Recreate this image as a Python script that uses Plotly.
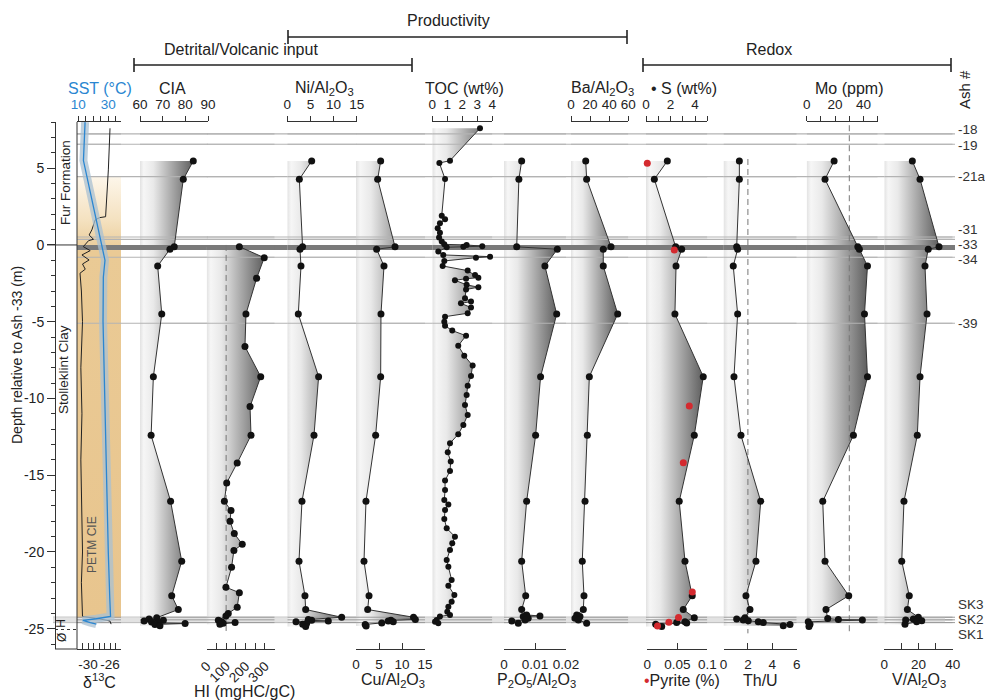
import plotly.graph_objects as go

# ---------------------------------------------------------------- data ----
# depths (m, relative to Ash -33) of the main geochemistry samples
SAMPLE_DEPTH = [5.47, 4.28, -0.12, -0.28, -1.37, -4.5, -8.58, -12.4, -16.7, -20.6, -22.85, -23.75]

CIA = [83.5, 79.1, 75.1, 73.2, 67.8, 69.6, 65.9, 64.9, 73.5, 78.4, 74.0, 76.9]
CIA_BASE_DEPTH = [-24.28, -24.36, -24.44, -24.5, -24.56, -24.62, -24.66, -24.72, -24.8]
CIA_BASE = [67.4, 64.0, 70.3, 61.8, 65.1, 68.1, 79.9, 66.6, 68.8]

NI = [5.27, 2.6, 3.3, 2.74, 2.96, 2.38, 6.77, 5.77, 3.17, 2.53, 3.82, 3.97]
NI_BASE_DEPTH = [-24.25, -24.4, -24.45, -24.5, -24.55, -24.65, -24.7, -24.85]
NI_BASE = [11.75, 4.54, 5.27, 8.86, 1.88, 4.19, 3.33, 3.97]

CU = [5.36, 4.71, 8.48, 4.49, 6.09, 5.43, 5.36, 4.27, 2.17, 1.74, 2.83, 2.54]
CU_BASE_DEPTH = [-24.25, -24.4, -24.45, -24.5, -24.55, -24.62, -24.72, -24.82]
CU_BASE = [12.5, 12.9, 7.6, 7.0, 8.1, 5.6, 2.0, 2.2]

P2O5 = [0.0057, 0.0048, 0.0041, 0.0172, 0.0132, 0.017, 0.0118, 0.0102, 0.0073, 0.0057, 0.007, 0.0057]
P2O5_BASE_DEPTH = [-24.1, -24.17, -24.2, -24.32, -24.43, -24.5, -24.65]
P2O5_BASE = [0.0073, 0.0116, 0.0062, 0.0078, 0.0068, 0.0025, 0.0046]

BA = [15.4, 16.4, 41.9, 33.8, 33.8, 48.9, 19.2, 17.1, 14.7, 11.8, 13.6, 12.9]
BA_BASE_DEPTH = [-24.1, -24.2, -24.32, -24.43, -24.65]
BA_BASE = [6.0, 9.4, 4.2, 7.7, 16.4]

S = [1.74, 0.68, 2.42, 2.91, 2.45, 2.36, 4.67, 3.94, 2.71, 3.18, 3.77, 3.04]
S_BASE_DEPTH = [-24.28, -24.54, -24.6, -24.63, -24.7, -24.85]
S_BASE = [3.94, 3.18, 2.5, 3.32, 0.79, 1.28]

THU = [1.3, 1.3, 1.08, 1.16, 0.8, 1.16, 0.86, 1.43, 3.05, 2.66, 1.84, 2.17]
THU_BASE_DEPTH = [-24.28, -24.36, -24.43, -24.48, -24.55, -24.6, -24.72, -24.8]
THU_BASE = [1.76, 1.08, 1.62, 2.03, 2.85, 3.26, 5.45, 4.9]

MO = [19.3, 12.9, 36.0, 37.1, 42.8, 40.7, 42.8, 32.9, 11.3, 12.9, 29.6, 13.6]
MO_BASE_DEPTH = [-24.33, -24.4, -24.43, -24.55, -24.7, -24.85]
MO_BASE = [14.8, 22.3, 39.2, 1.1, 2.3, 1.6]

V = [16.4, 20.9, 32.0, 25.7, 23.8, 25.0, 20.9, 19.3, 11.5, 10.2, 14.6, 13.5]
V_BASE_DEPTH = [-24.25, -24.36, -24.43, -24.48, -24.55, -24.7]
V_BASE = [19.9, 17.0, 12.5, 21.9, 18.9, 12.1]

HI_DEPTH = [-0.11, -0.83, -2.17, -4.5, -6.62, -8.58, -10.53, -12.4, -14.2, -15.5, -16.7,
            -17.3, -18.0, -18.8, -19.5, -19.9, -21.0, -22.3, -22.65, -23.6, -24.0, -24.17,
            -24.45, -24.55, -24.6, -24.65, -24.7]
HI = [168, 296, 257, 202, 197, 278, 223, 228, 157, 103, 91,
      125, 120, 142, 183, 140, 128, 99, 168, 157, 111, 99,
      60, 77, 146, 85, 68]

TOC_DEPTH = [7.6, 5.49, 5.34, 4.3, 1.91, 1.67, 1.41, 1.09, 0.8, 0.48, 0.22, 0.04, 0.0, -0.08,
             -0.12, -0.15, -0.43, -0.65, -0.76, -0.83, -1.04, -1.37, -1.67, -1.95, -2.13, -2.2,
             -2.3, -2.6, -2.75, -2.9, -3.47, -3.69, -3.8, -4.08, -4.45, -4.67, -5.0, -5.26,
             -5.58, -5.91, -6.56, -7.21, -7.86, -8.53, -9.17, -9.77, -10.42, -11.07, -11.73,
             -12.33, -12.92, -13.51, -14.11, -14.72, -15.35, -15.96, -16.61, -16.9, -17.26,
             -17.85, -18.46, -19.0, -19.43, -19.87, -20.52, -20.96, -21.82, -22.2, -22.8,
             -23.24, -23.56, -23.89, -24.1, -24.2, -24.43, -24.54, -24.65]
TOC = [3.18, 1.18, 0.47, 0.85, 0.63, 0.85, 0.51, 0.36, 0.51, 0.45, 0.63, 0.8, 2.29, 3.33,
       2.07, 0.96, 0.4, 0.73, 3.85, 2.91, 0.8, 0.69, 2.36, 2.85, 3.07, 2.25,
       1.51, 2.29, 3.07, 2.25, 2.18, 2.58, 1.91, 2.58, 2.36, 0.85, 0.8, 0.85,
       1.33, 2.25, 1.73, 2.13, 2.69, 2.58, 2.36, 2.29, 2.18, 2.36, 2.07,
       1.73, 1.18, 1.03, 1.23, 1.18, 0.85, 0.85, 0.8, 1.07, 0.85,
       0.8, 0.96, 1.51, 1.33, 1.18, 0.96, 1.07, 1.29, 1.07, 1.47,
       1.29, 1.07, 1.0, 1.18, 0.51, 0.29, 0.18, 0.4]

PYRITE_DEPTH = [5.32, -0.33, -10.49, -14.18, -22.6, -24.26, -24.58, -24.82]
PYRITE = [0.0, 0.045, 0.07, 0.06, 0.075, 0.052, 0.036, 0.017]

D13C_DEPTH = [7.6, 4.89, 1.84, 1.78, 1.63, 0.98, 0.65, 0.37, 0.28, -0.11, -0.37, -0.65, -0.98,
              -1.24, -1.58, -1.84, -3.0, -5.0, -8.0, -11.0, -14.0, -17.0, -20.0, -22.0, -24.2,
              -24.35, -24.5, -24.7]
D13C = [-26.0, -26.3, -26.8, -27.9, -28.7, -29.3, -29.8, -29.0, -29.9, -30.85, -29.6, -31.1, -29.8,
        -31.0, -30.5, -31.45, -31.2, -31.0, -31.3, -31.1, -31.3, -31.2, -31.0, -31.2, -31.0,
        -28.0, -26.0, -25.8]

SST_DEPTH = [8.0, 5.5, -1.0, -2.1, -5.0, -10.0, -15.0, -20.0, -23.0, -24.2, -24.35, -24.45, -24.6, -24.7]
SST = [14.5, 13.4, 27.8, 26.7, 26.5, 27.5, 28.5, 30.0, 31.0, 31.5, 22.0, 13.0, 18.0, 22.0]

PETM_CIE = (4.45, -24.28)          # top / base of the carbon isotope excursion

ASH_NAMES = ['-18', '-19', '-21a', '-31', '', '-33', '-34', '-39', 'SK3', 'SK2', 'SK1']
ASH_DEPTHS = [7.23, 6.56, 4.45, 0.52, 0.36, -0.17, -0.8, -5.1, -24.25, -24.42, -24.6]

# threshold lines (value, top depth, base depth)
HI_REF = (100, 0.0, -25.3)
THU_REF = (2, 5.6, -25.3)
MO_REF = (30, 7.8, -25.3)

Y_TICKS = [5, 0, -5, -10, -15, -20, -25]

# ---------------------------------------------------------------- layout helpers ----
W, H = 985, 700
FONT = 'Liberation Sans, Arial, sans-serif'
INK = '#222222'


def px(x):
    return x / W


def py(y):
    return 1 - y / H


DEPTH_RANGE = [-26.32, 8.01]
GREYS = [[0, '#e2e2e2'], [0.07, '#f6f6f6'], [0.25, '#e9e9e9'], [1, '#5e5e5e']]

fig = go.Figure()
layout_axes = {}


def add_axis(num, side, x0, x1, rng, tickvals, ticktext, label_color=INK, angle=0):
    top = side == 'top'
    name = 'xaxis' if num == 1 else f'xaxis{num}'
    layout_axes[name] = dict(
        domain=[px(x0), px(x1)], range=rng, anchor='y', side=side,
        showline=True, linecolor='#333', linewidth=1,
        ticks='outside' if top else 'inside', ticklen=5 if top else 6,
        tickwidth=1, tickcolor='#333',
        tickmode='array', tickvals=tickvals, ticktext=ticktext, tickangle=angle,
        tickfont=dict(size=13.5, color=label_color, family=FONT),
        ticklabelstandoff=2 if top else 3, automargin=False,
        showgrid=False, zeroline=False, fixedrange=True)
    return 'x' if num == 1 else f'x{num}'


def ash_overlay(ax, rng):
    # redraw the ash horizons over the shaded bands of one panel
    thin_x, thin_y, sk_x, sk_y = [], [], [], []
    for name, d in zip(ASH_NAMES, ASH_DEPTHS):
        if name == '-33':
            continue
        if name.startswith('SK'):
            sk_x += [rng[0], rng[1], None]
            sk_y += [d, d, None]
        else:
            thin_x += [rng[0], rng[1], None]
            thin_y += [d, d, None]
    d33 = ASH_DEPTHS[ASH_NAMES.index('-33')]
    for xs, ys, col, w in [(thin_x, thin_y, '#b3b3b3', 1.2), (sk_x, sk_y, '#9a9a9a', 1.0),
                           ([rng[0], rng[1]], [d33, d33], '#7a7a7a', 5)]:
        fig.add_trace(go.Scatter(x=xs, y=ys, xaxis=ax, yaxis='y', mode='lines',
                                 line=dict(color=col, width=w), hoverinfo='skip', showlegend=False))


def profile(ax, rng, depths, values, msize=7, ref=None):
    lo = rng[0]
    fig.add_trace(go.Scatter(
        x=[lo] + list(values) + [lo], y=[depths[0]] + list(depths) + [depths[-1]],
        xaxis=ax, yaxis='y', mode='lines', line=dict(width=0), fill='toself',
        fillgradient=dict(type='horizontal', colorscale=GREYS, start=lo, stop=max(values)),
        hoverinfo='skip', showlegend=False))
    ash_overlay(ax, rng)
    if ref is not None:
        fig.add_trace(go.Scatter(x=[ref[0], ref[0]], y=[ref[1], ref[2]], xaxis=ax, yaxis='y',
                                 mode='lines', line=dict(color='#777', width=1, dash='6px,4px'),
                                 hoverinfo='skip', showlegend=False))
    fig.add_trace(go.Scatter(x=values, y=depths, xaxis=ax, yaxis='y', mode='lines+markers',
                             line=dict(color='#333', width=1),
                             marker=dict(color='#111', size=msize), cliponaxis=False,
                             hoverinfo='skip', showlegend=False))


# ---------------------------------------------------------------- d13C / SST panel ----
R_D13C = [-32, -24]
D13C_TICKS = list(range(-32, -23))
D13C_LABELS = {-30: '-30', -26: '-26'}
ax1 = add_axis(1, 'bottom', 77, 121, R_D13C, D13C_TICKS, [D13C_LABELS.get(v, '') for v in D13C_TICKS])

fig.add_trace(go.Scatter(
    x=[R_D13C[0], R_D13C[1], R_D13C[1], R_D13C[0], R_D13C[0]],
    y=[PETM_CIE[0], PETM_CIE[0], PETM_CIE[1], PETM_CIE[1], PETM_CIE[0]],
    xaxis=ax1, yaxis='y', mode='lines', line=dict(width=0), fill='toself',
    fillgradient=dict(type='vertical', start=PETM_CIE[1], stop=PETM_CIE[0],
                      colorscale=[[0, '#e8c58e'], [0.83, '#eaca95'], [0.9, '#f4e1bf'], [1, '#fdf6ea']]),
    hoverinfo='skip', showlegend=False))
ash_overlay(ax1, R_D13C)
fig.add_trace(go.Scatter(x=D13C, y=D13C_DEPTH, xaxis=ax1, yaxis='y', mode='lines',
                         line=dict(color='#222', width=1), hoverinfo='skip', showlegend=False))

R_SST = [9.1, 38.5]
ax2 = add_axis(2, 'top', 77, 121, R_SST, [10, 15, 20, 25, 30, 35],
               ['10', '', '', '', '30', ''], label_color='#2a86d1')
fig.add_trace(go.Scatter(x=SST, y=SST_DEPTH, xaxis=ax2, yaxis='y', mode='lines',
                         line=dict(color='rgba(170,192,210,0.75)', width=8),
                         hoverinfo='skip', showlegend=False))
fig.add_trace(go.Scatter(x=SST, y=SST_DEPTH, xaxis=ax2, yaxis='y', mode='lines',
                         line=dict(color='#2a86d1', width=1.3),
                         hoverinfo='skip', showlegend=False))

# ---------------------------------------------------------------- geochemistry panels ----
R_CIA = [60, 90]
ax3 = add_axis(3, 'top', 140, 208, R_CIA, [60, 70, 80, 90], ['60', '70', '80', '90'])
profile(ax3, R_CIA, SAMPLE_DEPTH + CIA_BASE_DEPTH, CIA + CIA_BASE)

R_HI = [0, 350]
ax4 = add_axis(4, 'bottom', 206.7, 274.7, R_HI, [0, 50, 100, 150, 200, 250, 300, 350],
               ['0', '', '100', '', '200', '', '300', ''], angle=-45)
profile(ax4, R_HI, HI_DEPTH, HI, ref=HI_REF)

R_NI = [0, 15]
ax5 = add_axis(5, 'top', 287.3, 356.7, R_NI, [0, 5, 10, 15], ['0', '5', '10', '15'])
profile(ax5, R_NI, SAMPLE_DEPTH + NI_BASE_DEPTH, NI + NI_BASE)

R_CU = [0, 15]
ax6 = add_axis(6, 'bottom', 356, 425, R_CU, [0, 5, 10, 15], ['0', '5', '10', '15'])
profile(ax6, R_CU, SAMPLE_DEPTH + CU_BASE_DEPTH, CU + CU_BASE)

R_TOC = [0, 4]
ax7 = add_axis(7, 'top', 432.3, 492.3, R_TOC, [0, 1, 2, 3, 4], ['0', '1', '2', '3', '4'])
profile(ax7, R_TOC, TOC_DEPTH, TOC, msize=6)

R_P = [0, 0.02]
ax8 = add_axis(8, 'bottom', 504, 566, R_P, [0, 0.01, 0.02], ['0', '0.01', '0.02'])
profile(ax8, R_P, SAMPLE_DEPTH + P2O5_BASE_DEPTH, P2O5 + P2O5_BASE)

R_BA = [0, 60]
ax9 = add_axis(9, 'top', 571, 628.3, R_BA, [0, 20, 40, 60], ['0', '20', '40', '60'])
profile(ax9, R_BA, SAMPLE_DEPTH + BA_BASE_DEPTH, BA + BA_BASE)

R_S = [0, 5]
ax10 = add_axis(10, 'top', 646, 707.3, R_S, [0, 1, 2, 3, 4, 5], ['0', '', '2', '', '4', ''])
profile(ax10, R_S, SAMPLE_DEPTH + S_BASE_DEPTH, S + S_BASE)

R_PY = [0, 0.1]
ax11 = add_axis(11, 'bottom', 647.3, 707.3, R_PY, [0, 0.05, 0.1], ['0', '0.05', '0.1'])
fig.add_trace(go.Scatter(x=PYRITE, y=PYRITE_DEPTH, xaxis=ax11, yaxis='y', mode='markers',
                         marker=dict(color='#d42a2f', size=7), cliponaxis=False,
                         hoverinfo='skip', showlegend=False))

R_THU = [0, 6]
ax12 = add_axis(12, 'bottom', 723.5, 796.7, R_THU, [0, 2, 4, 6], ['0', '2', '4', '6'])
profile(ax12, R_THU, SAMPLE_DEPTH + THU_BASE_DEPTH, THU + THU_BASE, ref=THU_REF)

R_MO = [0, 50]
ax13 = add_axis(13, 'top', 806.7, 877.7, R_MO, [0, 10, 20, 30, 40, 50], ['0', '', '20', '', '40', ''])
profile(ax13, R_MO, SAMPLE_DEPTH + MO_BASE_DEPTH, MO + MO_BASE, ref=MO_REF)

R_V = [0, 40]
ax14 = add_axis(14, 'bottom', 884.3, 952.7, R_V, [0, 10, 20, 30, 40], ['0', '', '20', '', '40'])
profile(ax14, R_V, SAMPLE_DEPTH + V_BASE_DEPTH, V + V_BASE)

# ---------------------------------------------------------------- shapes ----
shapes = []
line_right = px(955)
for name, d in zip(ASH_NAMES, ASH_DEPTHS):
    if name == '-33':
        style = dict(color='#7a7a7a', width=5)
    elif name.startswith('SK'):
        style = dict(color='#9a9a9a', width=1)
    else:
        style = dict(color='#b3b3b3', width=1.2)
    x0 = px(53) if name.startswith('SK') else px(77)
    shapes.append(dict(type='line', xref='paper', yref='y', x0=x0, x1=line_right, y0=d, y1=d,
                       line=style, layer='below'))
sk = [d for n, d in zip(ASH_NAMES, ASH_DEPTHS) if n.startswith('SK')]
shapes.append(dict(type='rect', xref='paper', yref='y', x0=px(53), x1=px(945), y0=min(sk), y1=max(sk),
                   fillcolor='#e2e2e2', line=dict(width=0), layer='below'))
# panel frame and formation column
shapes.append(dict(type='line', xref='paper', yref='paper', x0=px(77), x1=px(77), y0=py(649), y1=py(122),
                   line=dict(color='#333', width=1)))
shapes.append(dict(type='line', xref='paper', yref='y', x0=px(47), x1=px(77), y0=0, y1=0,
                   line=dict(color='#333', width=1)))
shapes.append(dict(type='line', xref='paper', yref='y', x0=px(55), x1=px(77), y0=-25.05, y1=-25.05,
                   line=dict(color='#333', width=1, dash='3px,3px')))
shapes.append(dict(type='line', xref='paper', yref='paper', x0=px(55), x1=px(77), y0=py(649), y1=py(649),
                   line=dict(color='#333', width=1)))


def bracket(x0, x1, y):
    # group bracket drawn above the panels
    return [dict(type='line', xref='paper', yref='paper', x0=px(x0), x1=px(x1), y0=py(y), y1=py(y),
                 line=dict(color=INK, width=1.6)),
            dict(type='line', xref='paper', yref='paper', x0=px(x0), x1=px(x0), y0=py(y - 7), y1=py(y + 7),
                 line=dict(color=INK, width=1.6)),
            dict(type='line', xref='paper', yref='paper', x0=px(x1), x1=px(x1), y0=py(y - 7), y1=py(y + 7),
                 line=dict(color=INK, width=1.6))]


shapes += bracket(288, 627, 37) + bracket(134, 412, 65) + bracket(643, 951, 65)

# ---------------------------------------------------------------- annotations ----
ann = []


def text(x, y, s, size=15.5, color=INK, angle=0, xanchor='center', yref='paper'):
    ann.append(dict(x=px(x), y=py(y) if yref == 'paper' else y, xref='paper', yref=yref, text=s,
                    showarrow=False, textangle=angle, xanchor=xanchor, yanchor='middle',
                    font=dict(size=size, color=color, family=FONT)))


text(448, 20, 'Productivity', size=16)
text(241, 50, 'Detrital/Volcanic input', size=16)
text(769, 50, 'Redox', size=16)

text(100, 89, 'SST (°C)', size=16, color='#2a86d1')
text(172, 89, 'CIA', size=16)
text(324, 89, 'Ni/Al<sub>2</sub>O<sub>3</sub>', size=16)
text(464, 89, 'TOC (wt%)', size=16)
text(602, 89, 'Ba/Al<sub>2</sub>O<sub>3</sub>', size=16)
text(684, 89, '• S (wt%)', size=16)
text(849, 89, 'Mo (ppm)', size=16)
text(965, 90, 'Ash #', size=15, angle=-90)

text(99, 681, 'δ<sup>13</sup>C', size=16)
text(244, 691, 'HI (mgHC/gC)', size=16)
text(393, 680, 'Cu/Al<sub>2</sub>O<sub>3</sub>', size=16)
text(536, 680, 'P<sub>2</sub>O<sub>5</sub>/Al<sub>2</sub>O<sub>3</sub>', size=16)
text(682, 680, "<span style='color:#d42a2f'>•</span>Pyrite (%)", size=16)
text(760, 680, 'Th/U', size=16)
text(919, 680, 'V/Al<sub>2</sub>O<sub>3</sub>', size=16)

text(17, 355, 'Depth relative to Ash -33 (m)', size=14, angle=-90)
text(65, 183, 'Fur Formation', size=13.5, angle=-90)
text(63, 370, 'Stolleklint Clay', size=13.5, angle=-90)
text(92, 545, 'PETM CIE', size=12, color='#555', angle=-90)
text(61, -24.68, 'H', size=12, angle=-90, yref='y')
text(62, -25.6, 'Ø', size=12, angle=-90, yref='y')

# ash labels, nudged apart where horizons sit close together
LABEL_NUDGE = {'-18': 0.3, '-19': -0.05, '-31': 0.5, '-33': 0.2, '-34': -0.15,
               'SK3': 0.8, 'SK1': -0.75}
for name, d in zip(ASH_NAMES, ASH_DEPTHS):
    if name:
        text(956, d + LABEL_NUDGE.get(name, 0), name, size=13.5, color='#333', xanchor='left', yref='y')

fig.update_layout(
    width=W, height=H, margin=dict(l=0, r=0, t=0, b=0, autoexpand=False),
    paper_bgcolor='white', plot_bgcolor='rgba(0,0,0,0)',
    font=dict(family=FONT, color=INK),
    showlegend=False, shapes=shapes, annotations=ann,
    yaxis=dict(domain=[py(649), py(122)], range=DEPTH_RANGE, anchor='free', position=px(55),
               side='left', showline=True, linecolor='#333', linewidth=1,
               ticks='outside', ticklen=8, tickcolor='#333', automargin=False,
               tickmode='array', tickvals=Y_TICKS, ticktext=[str(v) for v in Y_TICKS],
               minor=dict(tickmode='linear', tick0=0, dtick=1, ticks='outside', ticklen=4,
                          tickcolor='#333'),
               tickfont=dict(size=14, family=FONT), showgrid=False, zeroline=False, fixedrange=True),
    **layout_axes)

fig.write_html('out.html')
